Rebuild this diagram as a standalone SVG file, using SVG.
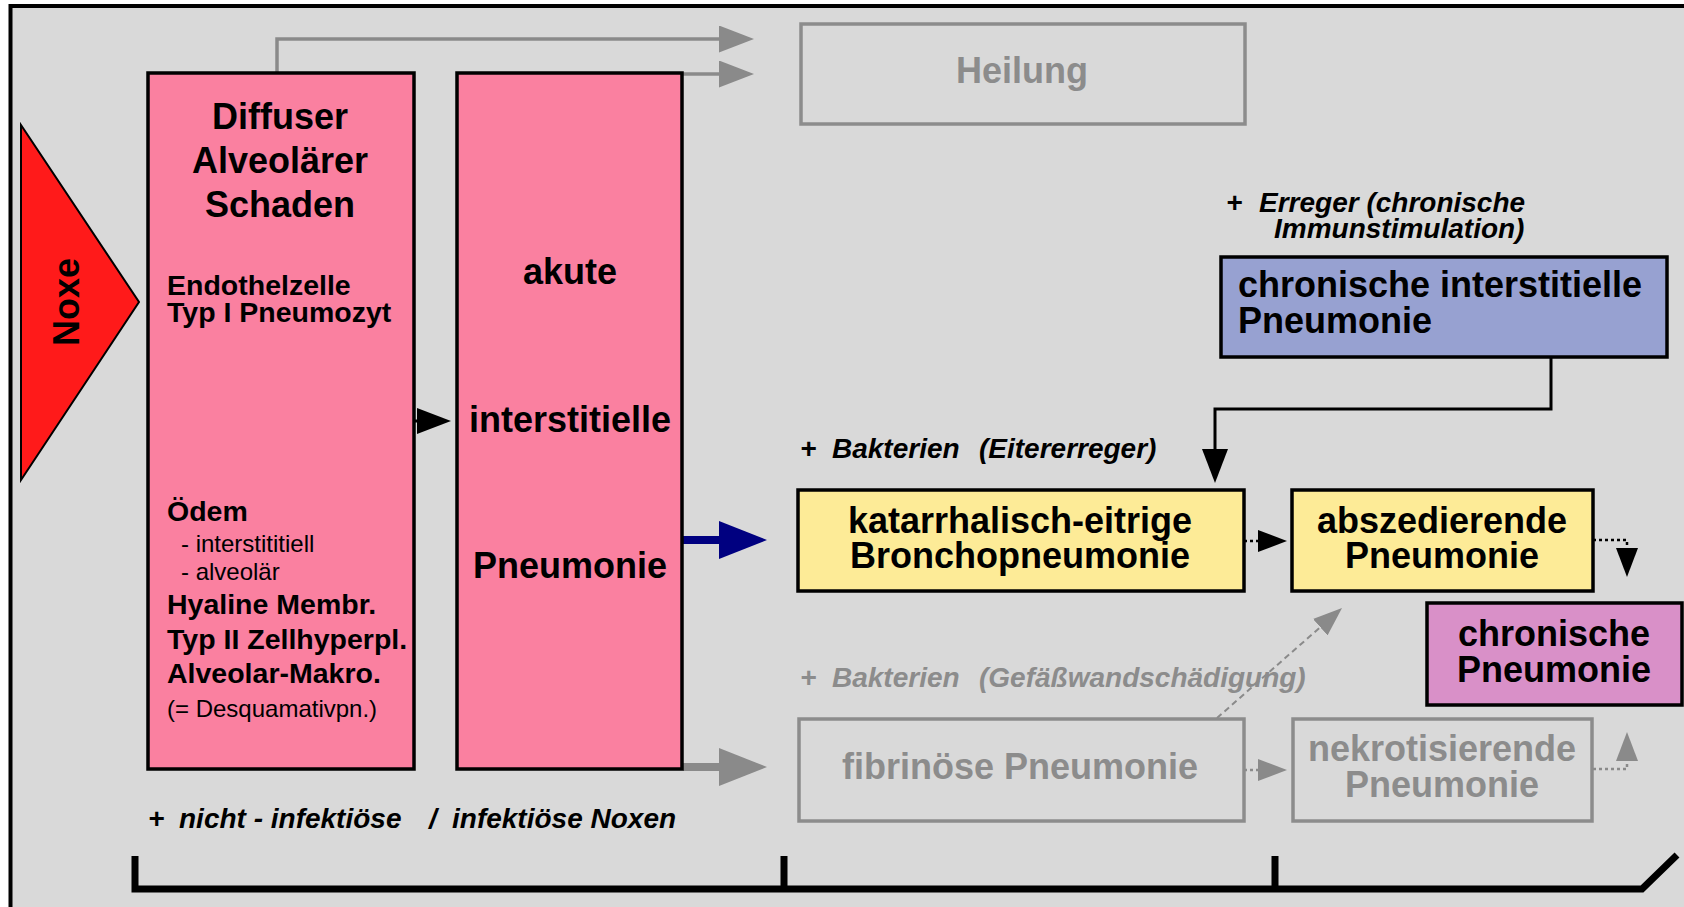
<svg xmlns="http://www.w3.org/2000/svg" width="1684" height="907" viewBox="0 0 1684 907">
<style>
text{font-family:"Liberation Sans",Arial,sans-serif;}
.bi{font-weight:bold;font-style:italic;font-size:28px;}
.big{font-size:36px;font-weight:bold;}
.mid{font-size:28.5px;font-weight:bold;}
.reg{font-size:24px;font-weight:normal;}
.c{text-anchor:middle;}
.g{fill:#8c8c8c;}
.box{stroke:#000;stroke-width:3.5;}
.gbox{fill:none;stroke:#8c8c8c;stroke-width:3.5;}
.ln{fill:none;stroke:#000;stroke-width:3;}
.gln{fill:none;stroke:#8a8a8a;stroke-width:3.5;}
.dot{fill:none;stroke:#000;stroke-width:2.5;stroke-dasharray:3 3;}
.gdot{fill:none;stroke:#8a8a8a;stroke-width:2.5;stroke-dasharray:3 3;}
.gdash{fill:none;stroke:#8a8a8a;stroke-width:2;stroke-dasharray:6 4;}
</style>
<defs>
<marker id="mb" markerUnits="userSpaceOnUse" viewBox="0 0 34 26" refX="1" refY="13" markerWidth="34" markerHeight="26" orient="auto"><path d="M0,0 L34,13 L0,26 z" fill="#000"/></marker>
<marker id="mg" markerUnits="userSpaceOnUse" viewBox="0 0 35 27" refX="1" refY="13.5" markerWidth="35" markerHeight="27" orient="auto"><path d="M0,0 L35,13.5 L0,27 z" fill="#8a8a8a"/></marker>
<marker id="mnavy" markerUnits="userSpaceOnUse" viewBox="0 0 48 38" refX="1" refY="19" markerWidth="48" markerHeight="38" orient="auto"><path d="M0,0 L48,19 L0,38 z" fill="#000080"/></marker>
<marker id="mgbig" markerUnits="userSpaceOnUse" viewBox="0 0 48 38" refX="1" refY="19" markerWidth="48" markerHeight="38" orient="auto"><path d="M0,0 L48,19 L0,38 z" fill="#8a8a8a"/></marker>
<marker id="mdb" markerUnits="userSpaceOnUse" viewBox="0 0 29 22" refX="1" refY="11" markerWidth="29" markerHeight="22" orient="auto"><path d="M0,0 L29,11 L0,22 z" fill="#000"/></marker>
<marker id="mdg" markerUnits="userSpaceOnUse" viewBox="0 0 29 22" refX="1" refY="11" markerWidth="29" markerHeight="22" orient="auto"><path d="M0,0 L29,11 L0,22 z" fill="#8a8a8a"/></marker>
</defs>
<rect x="0" y="0" width="1684" height="907" fill="#fff"/>
<rect x="10.5" y="6" width="1720" height="960" fill="#d9d9d9" stroke="#000" stroke-width="4"/>

<g id="connectors">
<path class="gln" d="M277,73 V39 H720" marker-end="url(#mg)"/>
<path class="gln" d="M682,74 H720" marker-end="url(#mg)"/>
<path class="ln" d="M199,351 V459" marker-end="url(#mb)"/>
<path class="ln" d="M414,421 H418" marker-end="url(#mb)"/>
<path d="M683,540 H720" fill="none" stroke="#000080" stroke-width="8" marker-end="url(#mnavy)"/>
<path d="M683,767 H720" fill="none" stroke="#8a8a8a" stroke-width="8" marker-end="url(#mgbig)"/>
<path class="ln" d="M1551,358 V409 H1215 V450" marker-end="url(#mb)"/>
<path class="dot" d="M1244,541 H1259" marker-end="url(#mdb)"/>
<path class="dot" d="M1593,540 H1627 V549" marker-end="url(#mdb)"/>
<path class="gdot" d="M1244,770 H1259" marker-end="url(#mdg)"/>
<path class="gdot" d="M1593,769 H1627 V760" marker-end="url(#mdg)"/>
<path class="gdash" d="M1217,718 L1321,626.5" marker-end="url(#mdg)"/>
</g>

<g id="noxe">
<polygon points="21,125 139,302 21,480" fill="#ff1a1a" stroke="#000" stroke-width="2"/>
<text class="big c" transform="translate(79,302) rotate(-90)">Noxe</text>
</g>

<g id="dad">
<rect class="box" x="148" y="73" width="266" height="696" fill="#fa80a0"/>
<text class="big c"><tspan x="280" y="129">Diffuser</tspan><tspan x="280" y="173">Alveolärer</tspan><tspan x="280" y="217">Schaden</tspan></text>
<text class="mid"><tspan x="167" y="295">Endothelzelle</tspan><tspan x="167" y="322">Typ I Pneumozyt</tspan></text>
<text class="mid"><tspan x="167" y="521">Ödem</tspan><tspan class="reg" x="181" y="552">- interstititiell</tspan><tspan class="reg" x="181" y="580">- alveolär</tspan><tspan x="167" y="614">Hyaline Membr.</tspan><tspan x="167" y="649">Typ II Zellhyperpl.</tspan><tspan x="167" y="683">Alveolar-Makro.</tspan><tspan class="reg" x="167" y="717">(= Desquamativpn.)</tspan></text>
</g>

<g id="akute">
<rect class="box" x="457" y="73" width="225" height="696" fill="#fa80a0"/>
<text class="big c"><tspan x="570" y="284">akute</tspan><tspan x="570" y="432">interstitielle</tspan><tspan x="570" y="578">Pneumonie</tspan></text>
</g>

<g id="heilung">
<rect class="gbox" x="801" y="24" width="444" height="100"/>
<text class="big c g" x="1022" y="83">Heilung</text>
</g>

<g id="label-erreger">
<text class="bi"><tspan x="1226" y="212">+</tspan><tspan x="1259" y="212">Erreger (chronische</tspan><tspan x="1274" y="238">Immunstimulation)</tspan></text>
</g>

<g id="chron-interst">
<rect class="box" x="1221" y="257" width="446" height="100" fill="#97a1d1"/>
<text class="big"><tspan x="1238" y="297">chronische interstitielle</tspan><tspan x="1238" y="333">Pneumonie</tspan></text>
</g>

<g id="label-eiter">
<text class="bi"><tspan x="800" y="458">+</tspan><tspan x="832" y="458">Bakterien</tspan><tspan x="979" y="458">(Eitererreger)</tspan></text>
</g>

<g id="katarrh">
<rect class="box" x="798" y="490" width="446" height="101" fill="#fdeb97"/>
<text class="big c"><tspan x="1020" y="533">katarrhalisch-eitrige</tspan><tspan x="1020" y="568">Bronchopneumonie</tspan></text>
</g>

<g id="abszed">
<rect class="box" x="1292" y="490" width="301" height="101" fill="#fdeb97"/>
<text class="big c"><tspan x="1442" y="533">abszedierende</tspan><tspan x="1442" y="568">Pneumonie</tspan></text>
</g>

<g id="chron-pneu">
<rect class="box" x="1427" y="603" width="255" height="102" fill="#d990c8"/>
<text class="big c"><tspan x="1554" y="646">chronische</tspan><tspan x="1554" y="682">Pneumonie</tspan></text>
</g>

<g id="label-gefaess">
<text class="bi g"><tspan x="800" y="687">+</tspan><tspan x="832" y="687">Bakterien</tspan><tspan x="979" y="687">(Gefäßwandschädigung)</tspan></text>
</g>

<g id="fibrin">
<rect class="gbox" x="799" y="719" width="445" height="102"/>
<text class="big c g" x="1020" y="779">fibrinöse Pneumonie</text>
</g>

<g id="nekrot">
<rect class="gbox" x="1293" y="719" width="299" height="102"/>
<text class="big c g"><tspan x="1442" y="761">nekrotisierende</tspan><tspan x="1442" y="797">Pneumonie</tspan></text>
</g>

<g id="label-noxen">
<text class="bi"><tspan x="148" y="828">+</tspan><tspan x="179" y="828">nicht - infektiöse</tspan><tspan x="429" y="828">/</tspan><tspan x="452" y="828">infektiöse Noxen</tspan></text>
</g>

<g id="timeline">
<path d="M135,856 V889 H1642 L1677,855" fill="none" stroke="#000" stroke-width="7"/>
<path d="M784,856 V889 M1275,856 V889" fill="none" stroke="#000" stroke-width="7"/>
</g>
</svg>
